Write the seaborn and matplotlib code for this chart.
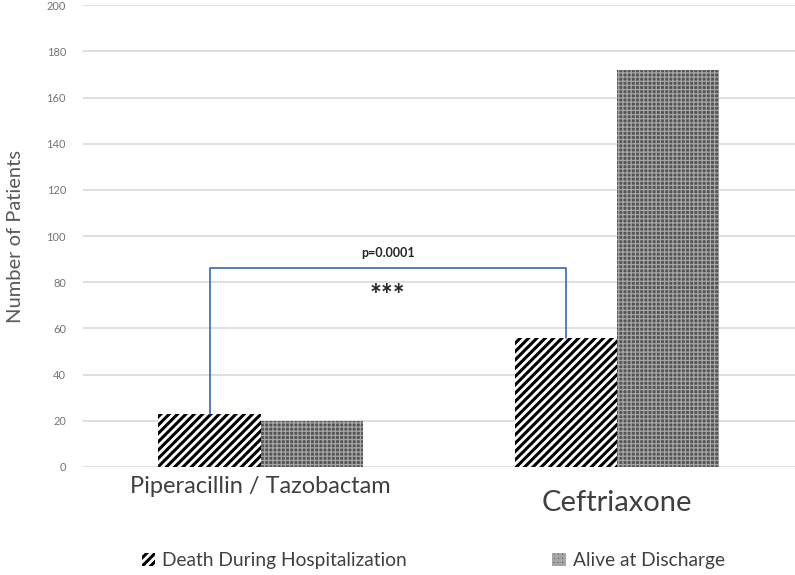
import numpy as np
import pandas as pd
import seaborn as sns
import matplotlib.pyplot as plt
from matplotlib.patches import Patch
from matplotlib.transforms import ScaledTranslation

drugs = ["Piperacillin / Tazobactam", "Ceftriaxone"]
outcomes = ["Death During Hospitalization", "Alive at Discharge"]
death = [23, 56]
alive = [20, 172]
p_text = "p=0.0001"
stars = "***"
bracket_y = 86

df = pd.DataFrame({
    "drug": drugs * 2,
    "outcome": [outcomes[0]] * 2 + [outcomes[1]] * 2,
    "patients": death + alive,
})

sns.set_style("white")
plt.rcParams["font.family"] = ["Lato", "DejaVu Sans"]
plt.rcParams["hatch.linewidth"] = 2.2

fig = plt.figure(figsize=(7.95, 5.75), dpi=100)
ax = fig.add_axes([0.104, 0.188, 0.896, 0.803])

sns.barplot(data=df, x="drug", y="patients", hue="outcome", order=drugs,
            hue_order=outcomes, palette=["white", "#7a7a7a"], width=0.575,
            gap=0, saturation=1, linewidth=0, legend=False, ax=ax)


def style_dots(p):
    p.set_hatch("++++")
    p.set_edgecolor("#a6a6a6")
    p.set_facecolor("#555555")
    if hasattr(p, "set_hatch_linewidth"):
        p.set_hatch_linewidth(0.9)


def style_lines(p):
    p.set_hatch("////")
    p.set_edgecolor("black")
    p.set_facecolor("white")
    if hasattr(p, "set_hatch_linewidth"):
        p.set_hatch_linewidth(2.2)


n = len(drugs)
for i, bar in enumerate(ax.patches[:2 * n]):
    if i < n:
        style_lines(bar)
    else:
        style_dots(bar)
    bar.set_linewidth(0)

ax.set_ylim(0, 200)
ax.set_xlim(-0.5, 1.5)
ax.set_yticks(np.arange(0, 201, 20))
ax.yaxis.grid(True, color="#d9d9d9", linewidth=1.2)
ax.set_axisbelow(True)
for s in ax.spines.values():
    s.set_visible(False)
ax.tick_params(axis="y", length=0, labelsize=8, labelcolor="#737373", pad=12)
ax.tick_params(axis="x", length=0, labelcolor="#404040", pad=4)
ax.set_xlabel("")
ax.set_ylabel("Number of Patients", fontsize=14.5, color="#595959")
ax.yaxis.set_label_coords(-0.082, 0.5)
xl = ax.get_xticklabels()
xl[0].set_fontsize(17)
xl[1].set_fontsize(21)
xl[0].set_transform(xl[0].get_transform() + ScaledTranslation(0, -4 / 100, fig.dpi_scale_trans))
xl[1].set_transform(xl[1].get_transform() + ScaledTranslation(0, -18 / 100, fig.dpi_scale_trans))

# significance bracket between the two death bars
bw = 0.575 / 2
x0 = 0 - bw / 2
x1 = 1 - bw / 2
ax.plot([x0, x0, x1, x1], [death[0], bracket_y, bracket_y, death[1]],
        color="#4472c4", linewidth=1.3, clip_on=False)
ax.text((x0 + x1) / 2, bracket_y + 4, p_text, ha="center", va="bottom",
        fontsize=9, fontweight="bold", color="#262626")
ax.text((x0 + x1) / 2, bracket_y - 6.5, stars, ha="center", va="top",
        fontsize=20, fontweight="bold", color="#262626")

hl = Patch(facecolor="white", linewidth=0)
style_lines(hl)
hd = Patch(facecolor="#555555", linewidth=0)
style_dots(hd)
fig.legend([hl, hd], outcomes, loc="lower center", bbox_to_anchor=(0.545, -0.02),
           ncol=2, frameon=False, fontsize=13.8, handlelength=0.7, handleheight=0.7,
           handletextpad=0.35, columnspacing=7.6, labelcolor="#404040")

fig.savefig("out.png", dpi=100)
